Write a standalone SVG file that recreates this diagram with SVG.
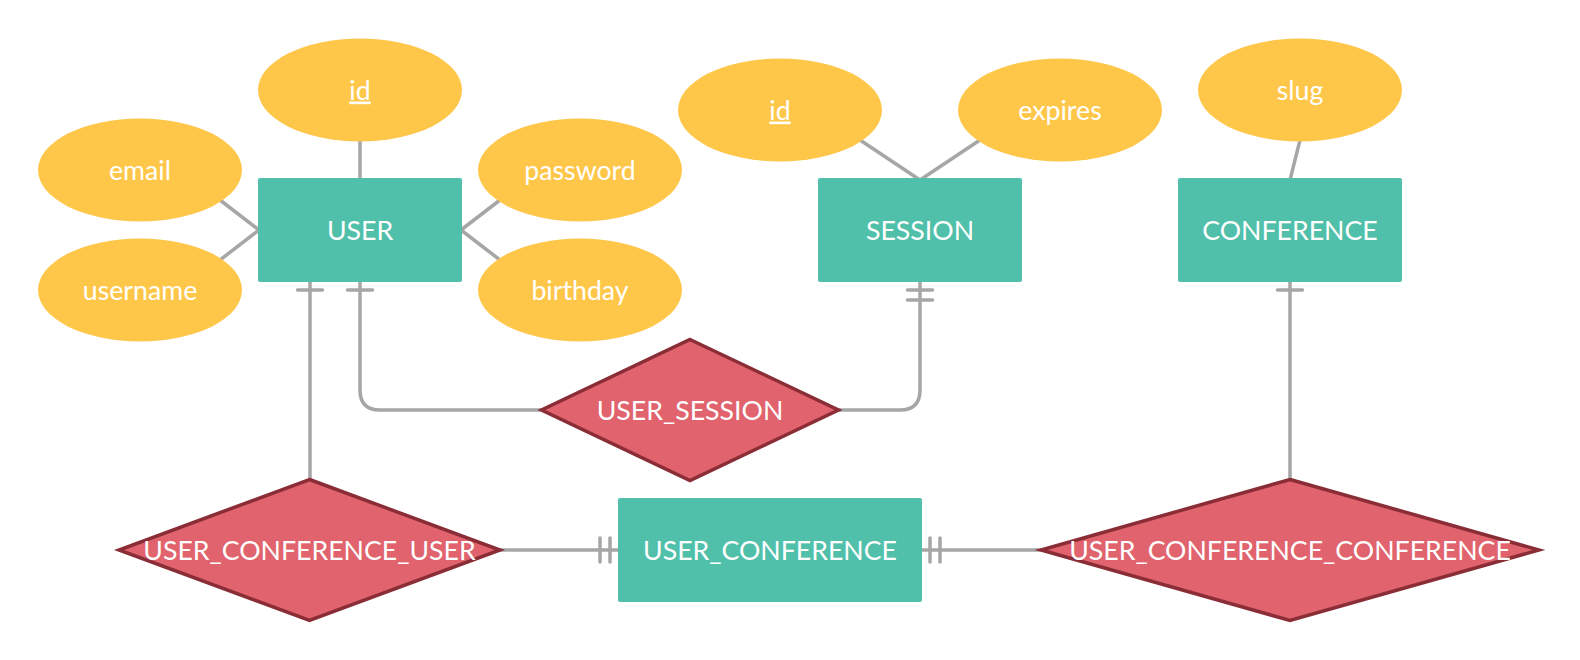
<svg xmlns="http://www.w3.org/2000/svg" width="1580" height="660" viewBox="0 0 1580 660">
<style>
.attr{fill:#FFC74A;stroke:none}
.ent{fill:#51C0AA;stroke:none}
.rel{fill:#E0636D;stroke:#8A2D36;stroke-width:3.5;stroke-linejoin:miter}
.t{font-family:Lato,"Liberation Sans",sans-serif;font-size:26.7px;fill:#FFFFFF;text-anchor:middle}
.c{fill:none;stroke:#A6A6A6;stroke-width:3.5;stroke-linecap:round;stroke-linejoin:round}
</style>
<rect width="1580" height="660" fill="#FFFFFF"/>
<g id="connectors">
<path class="c" d="M360,141 L360,178"/>
<path class="c" d="M220,200 L259,230 L220,260"/>
<path class="c" d="M500,200 L461,230 L500,260"/>
<path class="c" d="M860,140 L920,180 L980,140"/>
<path class="c" d="M1300,140 L1290,180"/>
<path class="c" d="M310,282 L310,480 M297.5,290 L322.5,290"/>
<path class="c" d="M360,282 L360,390 Q360,410 380,410 L541,410 M347.5,290 L372.5,290"/>
<path class="c" d="M920,282 L920,390 Q920,410 900,410 L839,410 M907.5,290 L932.5,290 M907.5,300 L932.5,300"/>
<path class="c" d="M1290,282 L1290,480 M1277.5,290 L1302.5,290"/>
<path class="c" d="M500,550 L618,550 M600,538 L600,562 M610,538 L610,562"/>
<path class="c" d="M922,550 L1041,550 M930,538 L930,562 M940,538 L940,562"/>
</g>
<g id="attr-user-id"><ellipse class="attr" cx="360" cy="90" rx="102" ry="51.5"/><text class="t" x="360" y="99.5" text-decoration="underline">id</text></g>
<g id="attr-email"><ellipse class="attr" cx="140" cy="170" rx="102" ry="51.5"/><text class="t" x="140" y="179.5">email</text></g>
<g id="attr-username"><ellipse class="attr" cx="140" cy="290" rx="102" ry="51.5"/><text class="t" x="140" y="299.5">username</text></g>
<g id="attr-password"><ellipse class="attr" cx="580" cy="170" rx="102" ry="51.5"/><text class="t" x="580" y="179.5">password</text></g>
<g id="attr-birthday"><ellipse class="attr" cx="580" cy="290" rx="102" ry="51.5"/><text class="t" x="580" y="299.5">birthday</text></g>
<g id="attr-session-id"><ellipse class="attr" cx="780" cy="110" rx="102" ry="51.5"/><text class="t" x="780" y="119.5" text-decoration="underline">id</text></g>
<g id="attr-expires"><ellipse class="attr" cx="1060" cy="110" rx="102" ry="51.5"/><text class="t" x="1060" y="119.5">expires</text></g>
<g id="attr-slug"><ellipse class="attr" cx="1300" cy="90" rx="102" ry="51.5"/><text class="t" x="1300" y="99.5">slug</text></g>
<g id="USER"><rect class="ent" x="258" y="178" width="204" height="104" rx="2"/><text class="t" x="360" y="239.5">USER</text></g>
<g id="SESSION"><rect class="ent" x="818" y="178" width="204" height="104" rx="2"/><text class="t" x="920" y="239.5">SESSION</text></g>
<g id="CONFERENCE"><rect class="ent" x="1178" y="178" width="224" height="104" rx="2"/><text class="t" x="1290" y="239.5">CONFERENCE</text></g>
<g id="USER_CONFERENCE"><rect class="ent" x="618" y="498" width="304" height="104" rx="2"/><text class="t" x="770" y="559.5">USER_CONFERENCE</text></g>
<g id="USER_SESSION"><polygon class="rel" points="690,339.5 838.5,410 690,480.5 541.5,410"/><text class="t" x="690" y="419.5">USER_SESSION</text></g>
<g id="USER_CONFERENCE_USER"><polygon class="rel" points="309.5,479.5 500,550 309.5,620.5 119,550"/><text class="t" x="309.5" y="559.5">USER_CONFERENCE_USER</text></g>
<g id="USER_CONFERENCE_CONFERENCE"><polygon class="rel" points="1290,479.5 1539,550 1290,620.5 1041,550"/><text class="t" x="1290" y="559.5">USER_CONFERENCE_CONFERENCE</text></g>
</svg>
